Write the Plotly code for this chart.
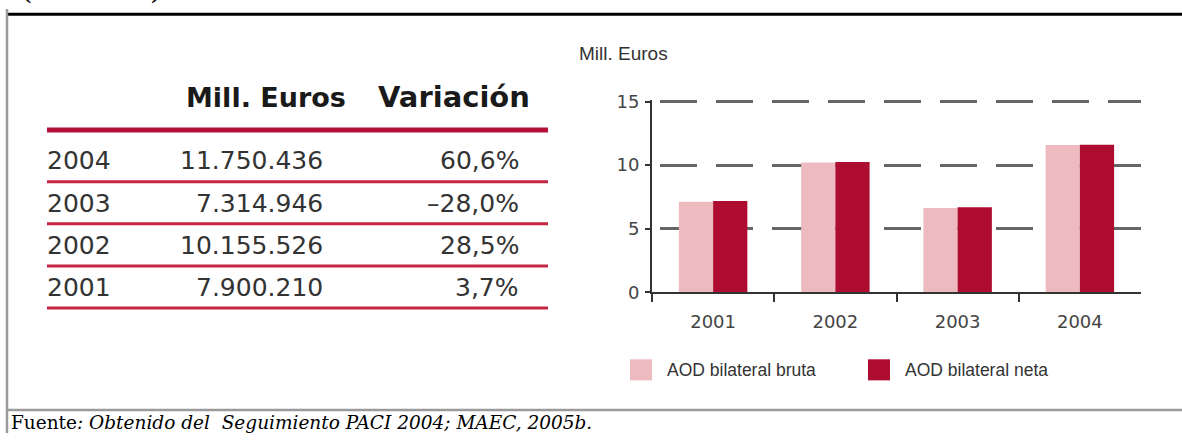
import plotly.graph_objects as go

# ---------------- data ----------------
years = ["2001", "2002", "2003", "2004"]
aod_bruta = [7.13, 10.2, 6.63, 11.58]
aod_neta = [7.18, 10.25, 6.68, 11.6]
series_names = ["AOD bilateral bruta", "AOD bilateral neta"]
y_ticks = [0, 5, 10, 15]

table_years = ["2004", "2003", "2002", "2001"]
table_meuros = ["11.750.436", "7.314.946", "10.155.526", "7.900.210"]
table_var = ["60,6%", "\u201328,0%", "28,5%", "3,7%"]
table_headers = ["Mill. Euros", "Variación"]

y_title = "Mill. Euros"
footer_plain = "Fuente"
footer_italic = ": Obtenido del \u00a0Seguimiento PACI 2004; MAEC, 2005b."
cut_title = "(2001-2004)"

# ---------------- style ----------------
W, H = 1182, 443
C_LIGHT = "#EDBBBF"
C_DARK = "#AF0C31"
C_RED = "#B3103A"
C_TEXT = "#333333"
DIG = "DejaVu Sans"
SANS = "Liberation Sans"
SERIF = "DejaVu Serif"

Y0_PX, Y15_PX = 296.0, 96.7
Y_TOP_VAL = 15.15
Y_TOP_PX = Y0_PX - Y_TOP_VAL * (Y0_PX - Y15_PX) / 15


def px(x):
    return x / W


def py(y):
    return 1 - y / H


fig = go.Figure()
fig.add_trace(go.Bar(x=years, y=aod_bruta, name=series_names[0],
                     marker=dict(color=C_LIGHT, line=dict(width=0))))
fig.add_trace(go.Bar(x=years, y=aod_neta, name=series_names[1],
                     marker=dict(color=C_DARK, line=dict(width=0))))

fig.update_layout(
    width=W, height=H, autosize=False,
    margin=dict(l=0, r=0, t=0, b=0),
    paper_bgcolor="white", plot_bgcolor="white",
    showlegend=False,
    barmode="group", bargap=0.44, bargroupgap=0,
    font=dict(family=SANS, color=C_TEXT),
    xaxis=dict(
        domain=[px(652), px(1141)], type="category",
        showline=True, linecolor="#333", linewidth=2,
        ticks="outside", tickson="boundaries", ticklen=8, tickwidth=2, tickcolor="#333",
        tickfont=dict(family=DIG, size=18, color="#444"),
        ticklabelstandoff=12,
        showgrid=False, zeroline=False, fixedrange=True,
    ),
    yaxis=dict(
        domain=[py(Y0_PX), py(Y_TOP_PX)], range=[0, Y_TOP_VAL],
        tickvals=y_ticks, ticktext=[str(v) for v in y_ticks],
        showline=True, linecolor="#333", linewidth=2,
        ticks="outside", ticklen=5, tickwidth=2, tickcolor="#333",
        tickfont=dict(family=DIG, size=18, color="#444"),
        ticklabelstandoff=2,
        showgrid=True, gridcolor="#666666", gridwidth=2.5,
        griddash="0px,8px,37px,11px",
        zeroline=False, fixedrange=True,
    ),
)

shapes = []
annotations = []

# y axis title above plot
annotations.append(dict(text=y_title, x=px(577), y=py(46), xref="paper", yref="paper",
                        xanchor="left", yanchor="middle", showarrow=False,
                        font=dict(family=SANS, size=19, color=C_TEXT)))

# legend (manual swatches)
legend_items = [(series_names[0], C_LIGHT, 630), (series_names[1], C_DARK, 868)]
for name, col, x0 in legend_items:
    shapes.append(dict(type="rect", xref="paper", yref="paper",
                       x0=px(x0), x1=px(x0 + 22), y0=py(388), y1=py(366),
                       fillcolor=col, line=dict(width=0)))
    annotations.append(dict(text=name, x=px(x0 + 35), y=py(377), xref="paper", yref="paper",
                            xanchor="left", yanchor="middle", showarrow=False,
                            font=dict(family=SANS, size=17.5, color=C_TEXT)))

# table
TX0, TX1 = 47, 548
shapes.append(dict(type="line", xref="paper", yref="paper",
                   x0=px(TX0), x1=px(TX1), y0=py(126.5), y1=py(126.5),
                   line=dict(color=C_RED, width=5)))
row_centers = [158.5, 203, 247, 291]
row_lines = [180.5, 224.5, 268.5, 312.5]
for yl in row_lines:
    shapes.append(dict(type="line", xref="paper", yref="paper",
                       x0=px(TX0), x1=px(TX1), y0=py(yl), y1=py(yl),
                       line=dict(color="#C42543", width=3)))

annotations.append(dict(text="<b>%s</b>" % table_headers[0], x=px(348), y=py(92),
                        xref="paper", yref="paper", xanchor="right", yanchor="middle",
                        showarrow=False, font=dict(family=DIG, size=27, color="#1a1a1a")))
annotations.append(dict(text="<b>%s</b>" % table_headers[1], x=px(532), y=py(92),
                        xref="paper", yref="paper", xanchor="right", yanchor="middle",
                        showarrow=False, font=dict(family=DIG, size=29, color="#1a1a1a")))
for yc, yr, val, var in zip(row_centers, table_years, table_meuros, table_var):
    annotations.append(dict(text=yr, x=px(TX0 - 2), y=py(yc), xref="paper", yref="paper",
                            xanchor="left", yanchor="middle", showarrow=False,
                            font=dict(family=DIG, size=25, color=C_TEXT)))
    annotations.append(dict(text=val, x=px(325), y=py(yc), xref="paper", yref="paper",
                            xanchor="right", yanchor="middle", showarrow=False,
                            font=dict(family=DIG, size=25, color=C_TEXT)))
    annotations.append(dict(text=var, x=px(521), y=py(yc), xref="paper", yref="paper",
                            xanchor="right", yanchor="middle", showarrow=False,
                            font=dict(family=DIG, size=25, color=C_TEXT)))

# frame lines
shapes.append(dict(type="line", xref="paper", yref="paper",
                   x0=px(7), x1=1, y0=py(5.5), y1=py(5.5),
                   line=dict(color="black", width=3)))
shapes.append(dict(type="line", xref="paper", yref="paper",
                   x0=px(7), x1=px(7), y0=0, y1=1,
                   line=dict(color="#9a9a9a", width=2.5)))
shapes.append(dict(type="line", xref="paper", yref="paper",
                   x0=px(7), x1=1, y0=py(419), y1=py(419),
                   line=dict(color="#9a9a9a", width=2.5)))

# cut-off heading at top (only its lower edge is visible)
annotations.append(dict(text="<b>%s</b>" % cut_title, x=px(20), y=py(-2), xref="paper", yref="paper",
                        xanchor="left", yanchor="bottom", showarrow=False,
                        font=dict(family=SERIF, size=20, color="black")))

# footer
annotations.append(dict(text=footer_plain + "<i>" + footer_italic + "</i>",
                        x=px(9), y=py(432.5), xref="paper", yref="paper",
                        xanchor="left", yanchor="middle", showarrow=False,
                        font=dict(family=SERIF, size=18.5, color="black")))

fig.update_layout(shapes=shapes, annotations=annotations)
fig.write_html("out.html",
               config={"displayModeBar": False},
               post_script="document.body.style.margin='0';document.body.style.overflow='hidden';")
